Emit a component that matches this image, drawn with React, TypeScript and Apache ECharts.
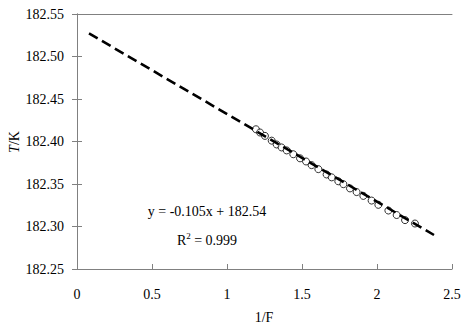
import React, { useEffect, useRef } from "react";
import * as echarts from "echarts";

const xTicks = [0, 0.5, 1, 1.5, 2, 2.5];
const yTicks = [182.25, 182.3, 182.35, 182.4, 182.45, 182.5, 182.55];

const obsX = [1.193, 1.22, 1.253, 1.298, 1.331, 1.364, 1.398, 1.442, 1.487, 1.527, 1.564, 1.609, 1.664, 1.698, 1.742, 1.776, 1.82, 1.864, 1.909, 1.964, 2.009, 2.076, 2.131, 2.187, 2.253];
const obsY = [182.4144, 182.4106, 182.4066, 182.401, 182.3965, 182.393, 182.3895, 182.385, 182.3802, 182.3765, 182.3722, 182.3675, 182.3612, 182.3578, 182.3532, 182.3498, 182.3448, 182.3405, 182.336, 182.3305, 182.3255, 182.3188, 182.3135, 182.3075, 182.3035];

const fitX = [0.08, 2.38];
const fitY = [182.5272, 182.29];

const FONT = "'Liberation Serif', 'Times New Roman', serif";

export default function App() {
  const ref = useRef<HTMLDivElement>(null);
  useEffect(() => {
    if (!ref.current) return;
    const chart = echarts.init(ref.current, undefined, { renderer: "svg" });
    const axisColor = "#808080";
    chart.setOption({
      animation: false,
      backgroundColor: "#fff",
      textStyle: { fontFamily: FONT },
      grid: { left: 77, right: 19, top: 14, bottom: 58 },
      xAxis: [
        {
          type: "value",
          min: 0,
          max: 2.5,
          interval: 0.5,
          axisLine: { lineStyle: { color: axisColor } },
          axisTick: { inside: true, length: 5, lineStyle: { color: axisColor } },
          splitLine: { show: false },
          axisLabel: {
            margin: 18,
            color: "#000",
            fontFamily: FONT,
            fontSize: 14,
            formatter: (v: number) => (xTicks.includes(v) ? String(v) : ""),
          },
        },
        {
          type: "value",
          position: "top",
          min: 0,
          max: 2.5,
          interval: 0.5,
          axisLine: { show: true, lineStyle: { color: axisColor } },
          axisTick: { show: false },
          axisLabel: { show: false },
          splitLine: { show: false },
        },
      ],
      yAxis: [
        {
          type: "value",
          min: 182.25,
          max: 182.55,
          interval: 0.05,
          axisLine: { show: true, lineStyle: { color: axisColor } },
          axisTick: { show: true, inside: true, length: 5, lineStyle: { color: axisColor } },
          splitLine: { show: false },
          axisLabel: {
            margin: 13,
            color: "#000",
            fontFamily: FONT,
            fontSize: 14,
            formatter: (v: number) => {
              const t = yTicks.find((y) => Math.abs(y - v) < 1e-6);
              return t !== undefined ? t.toFixed(2) : "";
            },
          },
        },
        {
          type: "value",
          position: "right",
          min: 182.25,
          max: 182.55,
          interval: 0.05,
          axisLine: { show: true, lineStyle: { color: axisColor } },
          axisTick: { show: true, inside: true, length: 5, lineStyle: { color: axisColor } },
          axisLabel: { show: false },
          splitLine: { show: false },
        },
      ],
      series: [
        {
          type: "scatter",
          xAxisIndex: 0,
          yAxisIndex: 0,
          symbol: "circle",
          symbolSize: 7,
          itemStyle: { color: "#fff", borderColor: "#000", borderWidth: 1 },
          data: obsX.map((x, i) => [x, obsY[i]]),
          z: 2,
        },
        {
          type: "line",
          xAxisIndex: 0,
          yAxisIndex: 0,
          symbol: "none",
          lineStyle: { color: "#000", width: 2.6, type: [10, 5] },
          data: fitX.map((x, i) => [x, fitY[i]]),
          z: 3,
        },
      ],
      graphic: [
        {
          type: "text",
          x: 207,
          y: 211,
          style: {
            text: "y = -0.105x + 182.54",
            fontFamily: FONT,
            fontSize: 14,
            fill: "#000",
            align: "center",
            verticalAlign: "middle",
          },
        },
        {
          type: "text",
          x: 207,
          y: 240,
          style: {
            text: "{a|R}{s|2}{a| = 0.999}",
            align: "center",
            verticalAlign: "middle",
            rich: {
              a: { fontFamily: FONT, fontSize: 14, fill: "#000" },
              s: { fontFamily: FONT, fontSize: 9, fill: "#000", padding: [0, 0, 9, 0] },
            },
          },
        },
        {
          type: "text",
          x: 14,
          y: 142,
          rotation: Math.PI / 2,
          style: {
            text: "{i|T}{a|/K}",
            align: "center",
            verticalAlign: "middle",
            rich: {
              i: { fontFamily: FONT, fontSize: 14, fontStyle: "italic", fill: "#000" },
              a: { fontFamily: FONT, fontSize: 14, fill: "#000" },
            },
          },
        },
        {
          type: "text",
          x: 264,
          y: 317,
          style: {
            text: "1/F",
            fontFamily: FONT,
            fontSize: 14,
            fill: "#000",
            align: "center",
            verticalAlign: "middle",
          },
        },
      ],
    });
    return () => chart.dispose();
  }, []);
  return (
    <div
      ref={ref}
      style={{ width: 471, height: 327, position: "fixed", left: 0, top: 0 }}
    />
  );
}
